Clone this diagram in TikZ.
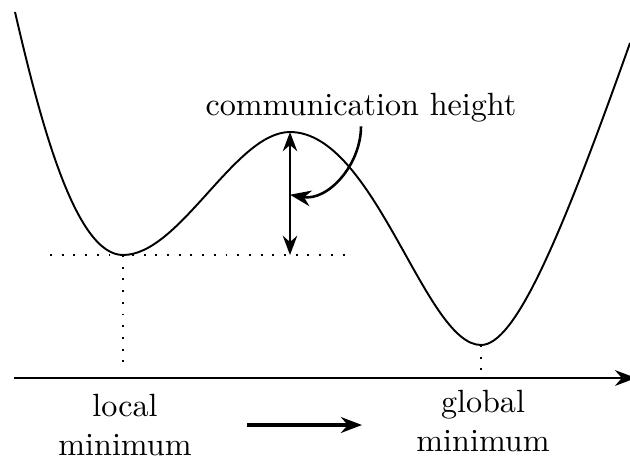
\documentclass[tikz,border=0pt]{standalone}
\usepackage{amsmath,amssymb}
\usetikzlibrary{arrows.meta, positioning, calc}

\begin{document}
\begin{tikzpicture}[
        x=0.311pt, y=-0.311pt,
        curve/.style={line width=0.6pt},
        guide/.style={line width=0.6pt, dash pattern=on 0.6pt off 3.04pt},
        arr/.style={-{Stealth[length=2.3mm]}, thick},
        dblarr/.style={{Stealth[length=2.1mm]}-{Stealth[length=2.1mm]}, thick},
        lbl/.style={align=center, inner sep=1pt},
    ]
    \useasboundingbox (0,0) rectangle (630,457);

    %% ---- Key points of the landscape ----
    \coordinate (start)   at (15,12);
    \coordinate (locmin)  at (123,255);
    \coordinate (barrier) at (290,132);
    \coordinate (glomin)  at (481,345);
    \coordinate (finish)  at (630,43);

    %% ---- Energy curve ----
    \draw[curve] (start) .. controls (40,120) and (75,255) .. (locmin)
        .. controls (180,255) and (235,132) .. (barrier)
        .. controls (375,132) and (425,345) .. (glomin)
        .. controls (515,345) and (560,240) .. (finish);

    %% ---- Axis ----
    \coordinate (axisL) at (14,378);
    \coordinate (axisR) at (636,378);
    \draw[arr, line width=0.6pt] (axisL) -- (axisR);

    %% ---- Dotted guides ----
    \coordinate (levelL) at (50,255);
    \coordinate (levelR) at (345,255);
    \coordinate (locfoot) at (123,372);
    \coordinate (glofoot) at (481,373);
    \draw[guide] (levelL) -- (levelR);
    \draw[guide] (locmin) -- (locfoot);
    \draw[guide] (glomin) -- (glofoot);

    %% ---- Barrier height ----
    \coordinate (barfoot) at (barrier |- locmin);
    \coordinate (midbar) at ($(barrier)!0.51!(barfoot)$);
    \draw[dblarr] (barrier) -- (barfoot);
    \node[lbl] (commlbl) at (361,108) {communication height};
    \draw[arr] (commlbl.south) to[out=-90, in=-10] (midbar);

    %% ---- Minima labels ----
    \node[lbl] (loclbl) at (125,425) {local\\minimum};
    \node[lbl] (glolbl) at (483,421) {global\\minimum};
    \coordinate (arrL) at (247,425);
    \coordinate (arrR) at (362,425);
    \draw[arr, very thick] (arrL) -- (arrR);

\end{tikzpicture}
\end{document}
